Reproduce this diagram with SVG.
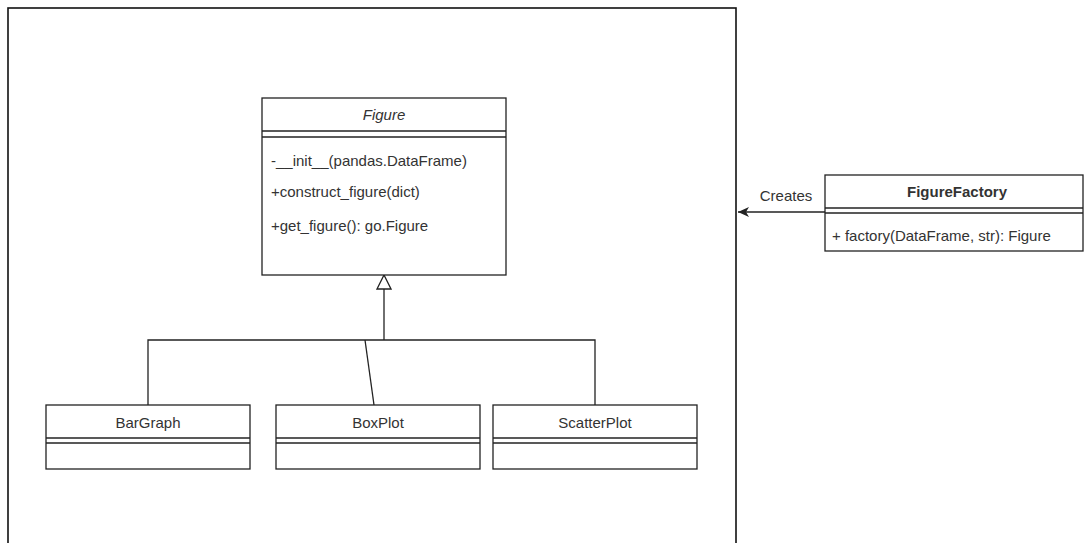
<svg xmlns="http://www.w3.org/2000/svg" width="1086" height="543" viewBox="0 0 1086 543">
<defs>
<style>
.box{fill:#fff;stroke:#222;stroke-width:1.3}
.ln{fill:none;stroke:#222;stroke-width:1.3}
.t{font-family:"Liberation Sans",Arial,sans-serif;font-size:15px;fill:#333}
.c{text-anchor:middle}
</style>
<marker id="inh" viewBox="0 0 16 16" markerWidth="16" markerHeight="16" refX="15" refY="8" orient="auto" markerUnits="userSpaceOnUse">
<path d="M1,1 L15,8 L1,15 Z" fill="#fff" stroke="#222" stroke-width="1.3"/>
</marker>
<marker id="arr" viewBox="0 0 12 10" markerWidth="12" markerHeight="10" refX="11" refY="5" orient="auto" markerUnits="userSpaceOnUse">
<path d="M0,0 L11,5 L0,10 L3,5 Z" fill="#222"/>
</marker>
</defs>
<rect width="1086" height="543" fill="#fff"/>
<rect id="frame" x="8" y="8" width="728" height="540" fill="none" stroke="#111" stroke-width="1.6"/>
<g id="connectors">
<path class="ln" d="M148,405 L148,340 L595,340 L595,405"/>
<path class="ln" d="M374,405 L365,340"/>
<path class="ln" d="M384,340 L384,275" marker-end="url(#inh)"/>
<path class="ln" d="M825,212 L738,212" marker-end="url(#arr)"/>
<text class="t c" x="786" y="201">Creates</text>
</g>
<g id="Figure">
<rect class="box" x="262" y="98" width="244" height="177"/>
<line class="ln" x1="262" y1="131" x2="506" y2="131"/>
<line class="ln" x1="262" y1="137" x2="506" y2="137"/>
<text class="t c" x="384" y="120" font-style="italic">Figure</text>
<text class="t" x="271" y="166">-__init__(pandas.DataFrame)</text>
<text class="t" x="271" y="197">+construct_figure(dict)</text>
<text class="t" x="271" y="231">+get_figure(): go.Figure</text>
</g>
<g id="BarGraph">
<rect class="box" x="46" y="405" width="204" height="64"/>
<line class="ln" x1="46" y1="438" x2="250" y2="438"/>
<line class="ln" x1="46" y1="443" x2="250" y2="443"/>
<text class="t c" x="148" y="428">BarGraph</text>
</g>
<g id="BoxPlot">
<rect class="box" x="276" y="405" width="204" height="64"/>
<line class="ln" x1="276" y1="438" x2="480" y2="438"/>
<line class="ln" x1="276" y1="443" x2="480" y2="443"/>
<text class="t c" x="378" y="428">BoxPlot</text>
</g>
<g id="ScatterPlot">
<rect class="box" x="493" y="405" width="204" height="64"/>
<line class="ln" x1="493" y1="438" x2="697" y2="438"/>
<line class="ln" x1="493" y1="443" x2="697" y2="443"/>
<text class="t c" x="595" y="428">ScatterPlot</text>
</g>
<g id="FigureFactory">
<rect class="box" x="825" y="175" width="258" height="76"/>
<line class="ln" x1="825" y1="208" x2="1083" y2="208"/>
<line class="ln" x1="825" y1="213" x2="1083" y2="213"/>
<text class="t c" x="957" y="197" font-weight="bold">FigureFactory</text>
<text class="t" x="832" y="241">+ factory(DataFrame, str): Figure</text>
</g>
</svg>
